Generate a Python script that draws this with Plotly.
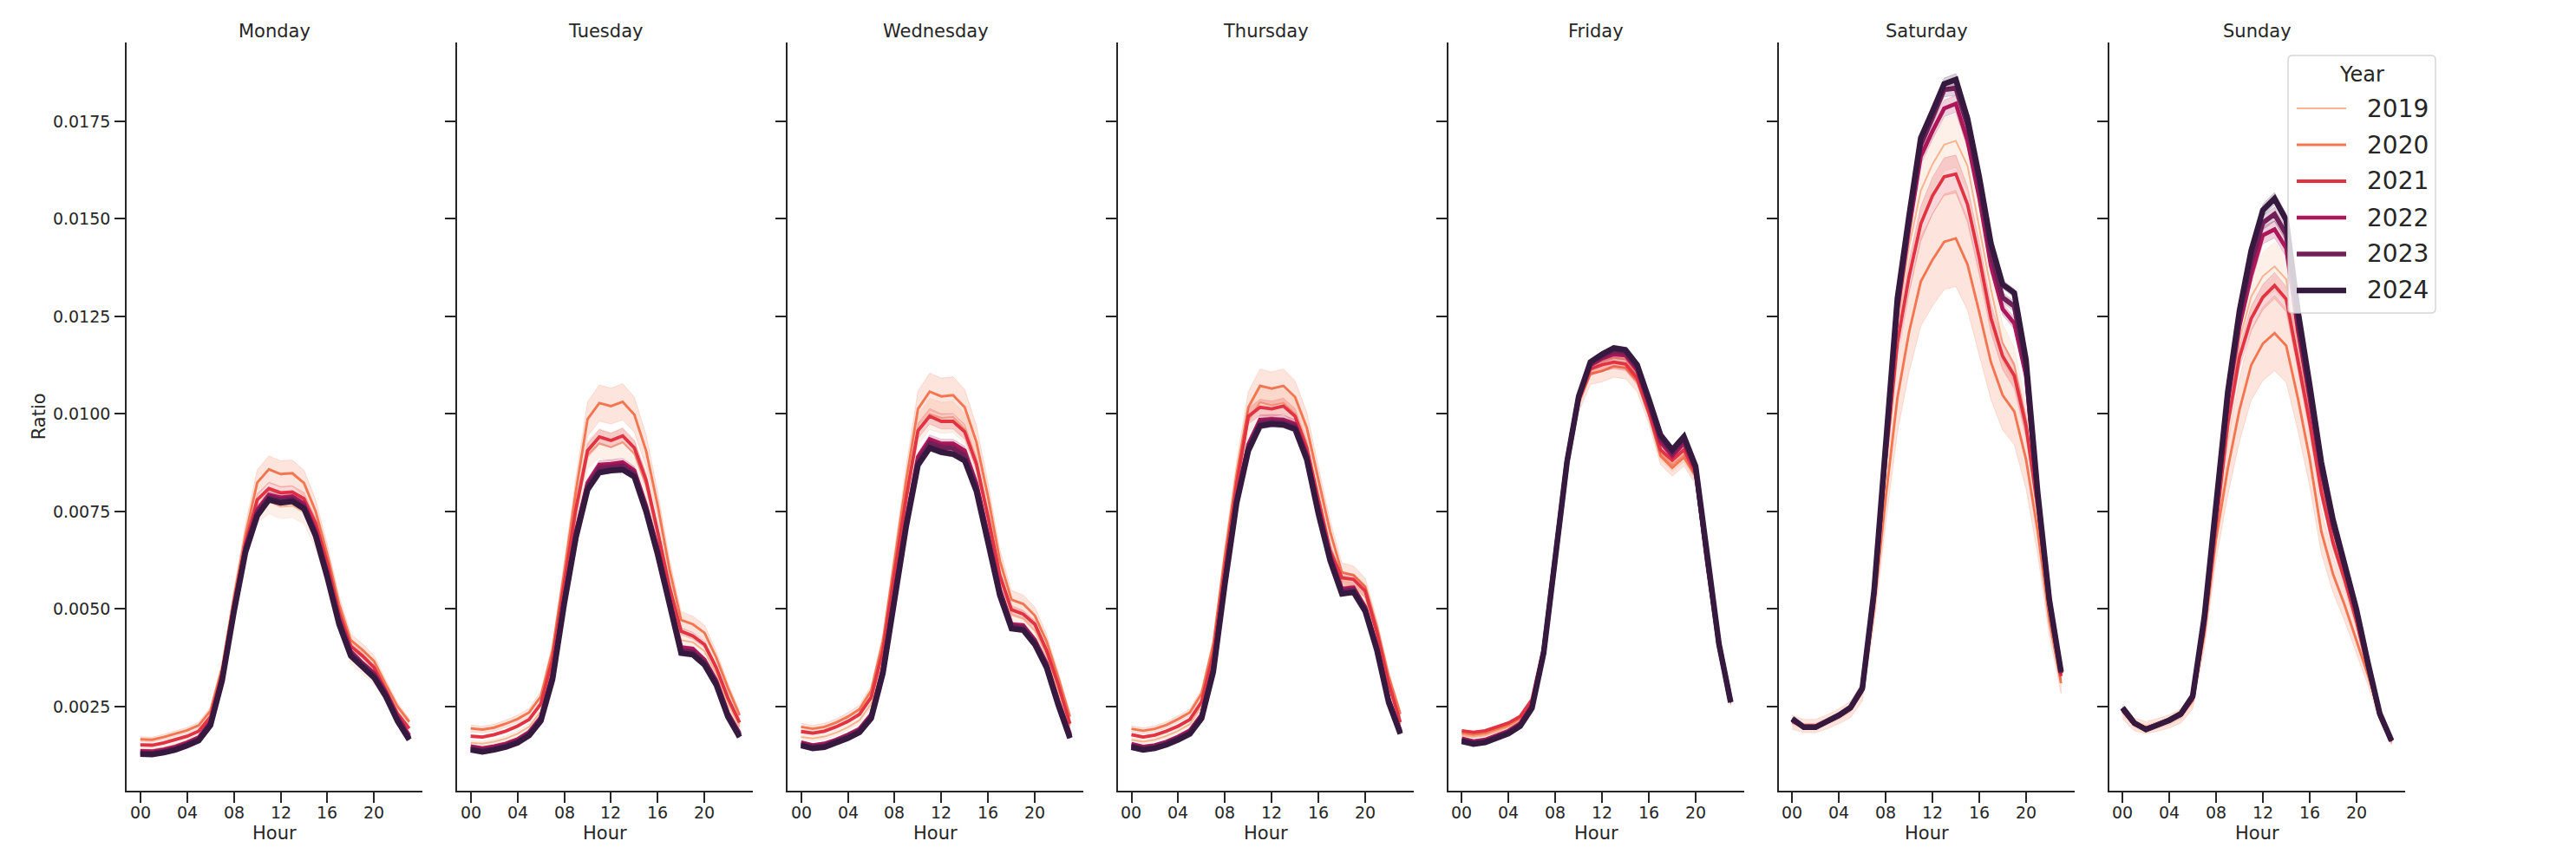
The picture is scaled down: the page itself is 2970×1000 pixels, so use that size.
import plotly.graph_objects as go

W, H = 2970, 1000

hours = list(range(24))
days = ["Monday", "Tuesday", "Wednesday", "Thursday", "Friday", "Saturday", "Sunday"]
years = ["2019", "2020", "2021", "2022", "2023", "2024"]
colors = ["#f6b48f", "#f37651", "#e13342", "#ad1759", "#701f57", "#35193e"]
line_widths = [2.0, 2.9, 3.8, 4.7, 5.6, 6.5]
xtick_vals = [0, 4, 8, 12, 16, 20]
xtick_text = ["00", "04", "08", "12", "16", "20"]
ytick_vals = [0.0025, 0.0050, 0.0075, 0.0100, 0.0125, 0.0150, 0.0175]
ytick_text = ["0.0025", "0.0050", "0.0075", "0.0100", "0.0125", "0.0150", "0.0175"]

# mean ratio per hour, one row per year (2019 .. 2024)
MONDAY = [
    [0.00140,0.00139,0.00144,0.00151,0.00161,0.00174,0.00212,0.00327,0.00502,0.00660,0.00752,0.00775,0.00762,0.00765,0.00748,0.00683,0.00580,0.00462,0.00375,0.00348,0.00320,0.00272,0.00215,0.00175],
    [0.00166,0.00165,0.00172,0.00180,0.00189,0.00202,0.00239,0.00350,0.00528,0.00691,0.00824,0.00858,0.00846,0.00848,0.00823,0.00750,0.00639,0.00513,0.00420,0.00395,0.00366,0.00306,0.00250,0.00211],
    [0.00152,0.00151,0.00157,0.00165,0.00174,0.00187,0.00224,0.00336,0.00513,0.00669,0.00780,0.00809,0.00798,0.00800,0.00783,0.00720,0.00617,0.00491,0.00405,0.00380,0.00350,0.00291,0.00232,0.00194],
    [0.00136,0.00135,0.00140,0.00147,0.00158,0.00171,0.00211,0.00328,0.00504,0.00659,0.00754,0.00793,0.00786,0.00789,0.00770,0.00700,0.00593,0.00474,0.00392,0.00362,0.00336,0.00287,0.00224,0.00176],
    [0.00131,0.00130,0.00135,0.00142,0.00153,0.00166,0.00206,0.00322,0.00497,0.00652,0.00746,0.00786,0.00779,0.00782,0.00763,0.00693,0.00586,0.00467,0.00386,0.00356,0.00330,0.00281,0.00218,0.00170],
    [0.00128,0.00127,0.00132,0.00139,0.00150,0.00163,0.00202,0.00317,0.00491,0.00646,0.00739,0.00780,0.00772,0.00776,0.00757,0.00687,0.00580,0.00461,0.00380,0.00350,0.00324,0.00276,0.00213,0.00165],
]
TUESDAY = [
    [0.00157,0.00155,0.00160,0.00168,0.00180,0.00198,0.00238,0.00352,0.00548,0.00740,0.00895,0.00925,0.00915,0.00928,0.00898,0.00815,0.00685,0.00540,0.00420,0.00415,0.00392,0.00335,0.00258,0.00198],
    [0.00194,0.00191,0.00196,0.00206,0.00218,0.00235,0.00276,0.00394,0.00594,0.00802,0.00987,0.01028,0.01020,0.01031,0.00998,0.00906,0.00765,0.00602,0.00472,0.00461,0.00439,0.00376,0.00298,0.00228],
    [0.00174,0.00172,0.00178,0.00187,0.00200,0.00217,0.00257,0.00372,0.00565,0.00757,0.00906,0.00941,0.00932,0.00944,0.00913,0.00831,0.00698,0.00557,0.00443,0.00431,0.00409,0.00350,0.00272,0.00209],
    [0.00148,0.00143,0.00148,0.00155,0.00166,0.00185,0.00223,0.00332,0.00527,0.00698,0.00824,0.00870,0.00872,0.00876,0.00855,0.00765,0.00655,0.00522,0.00402,0.00398,0.00370,0.00317,0.00234,0.00182],
    [0.00143,0.00138,0.00143,0.00150,0.00161,0.00180,0.00218,0.00326,0.00520,0.00690,0.00815,0.00860,0.00863,0.00866,0.00846,0.00757,0.00646,0.00513,0.00394,0.00390,0.00363,0.00311,0.00229,0.00177],
    [0.00139,0.00134,0.00139,0.00146,0.00157,0.00176,0.00213,0.00320,0.00513,0.00683,0.00806,0.00850,0.00855,0.00857,0.00839,0.00750,0.00639,0.00506,0.00387,0.00383,0.00357,0.00306,0.00224,0.00172],
]
WEDNESDAY = [
    [0.00172,0.00168,0.00173,0.00183,0.00197,0.00215,0.00258,0.00378,0.00580,0.00775,0.00960,0.01000,0.00990,0.00992,0.00962,0.00875,0.00735,0.00580,0.00485,0.00475,0.00445,0.00380,0.00292,0.00200],
    [0.00198,0.00193,0.00198,0.00209,0.00224,0.00243,0.00291,0.00417,0.00624,0.00831,0.01013,0.01057,0.01045,0.01048,0.01017,0.00928,0.00787,0.00624,0.00524,0.00513,0.00483,0.00417,0.00324,0.00224],
    [0.00186,0.00182,0.00187,0.00198,0.00212,0.00230,0.00274,0.00394,0.00594,0.00787,0.00957,0.00994,0.00981,0.00981,0.00954,0.00872,0.00735,0.00587,0.00498,0.00487,0.00461,0.00394,0.00306,0.00206],
    [0.00158,0.00151,0.00155,0.00165,0.00178,0.00193,0.00230,0.00347,0.00542,0.00728,0.00890,0.00935,0.00924,0.00924,0.00906,0.00822,0.00688,0.00551,0.00461,0.00458,0.00421,0.00361,0.00265,0.00180],
    [0.00154,0.00147,0.00150,0.00160,0.00173,0.00188,0.00225,0.00341,0.00535,0.00720,0.00878,0.00925,0.00914,0.00912,0.00893,0.00812,0.00678,0.00543,0.00456,0.00452,0.00415,0.00355,0.00259,0.00174],
    [0.00150,0.00143,0.00146,0.00156,0.00169,0.00184,0.00220,0.00335,0.00528,0.00713,0.00869,0.00913,0.00902,0.00897,0.00880,0.00802,0.00669,0.00535,0.00450,0.00446,0.00409,0.00350,0.00254,0.00169],
]
THURSDAY = [
    [0.00165,0.00160,0.00165,0.00175,0.00188,0.00205,0.00250,0.00370,0.00595,0.00808,0.00985,0.01030,0.01022,0.01028,0.01000,0.00920,0.00785,0.00650,0.00565,0.00560,0.00530,0.00425,0.00300,0.00205],
    [0.00193,0.00188,0.00193,0.00203,0.00218,0.00235,0.00283,0.00409,0.00639,0.00846,0.01017,0.01072,0.01065,0.01072,0.01043,0.00965,0.00831,0.00698,0.00594,0.00587,0.00557,0.00454,0.00328,0.00231],
    [0.00178,0.00172,0.00177,0.00187,0.00200,0.00217,0.00262,0.00385,0.00610,0.00820,0.00994,0.01017,0.01013,0.01020,0.00994,0.00913,0.00780,0.00650,0.00580,0.00576,0.00546,0.00440,0.00310,0.00210],
    [0.00154,0.00147,0.00151,0.00160,0.00173,0.00189,0.00229,0.00349,0.00576,0.00785,0.00922,0.00985,0.00987,0.00985,0.00974,0.00896,0.00757,0.00637,0.00552,0.00555,0.00505,0.00404,0.00270,0.00189],
    [0.00150,0.00143,0.00147,0.00156,0.00169,0.00184,0.00224,0.00344,0.00570,0.00778,0.00914,0.00977,0.00980,0.00978,0.00967,0.00889,0.00750,0.00630,0.00545,0.00549,0.00499,0.00399,0.00265,0.00184],
    [0.00146,0.00139,0.00143,0.00152,0.00165,0.00180,0.00220,0.00339,0.00565,0.00772,0.00906,0.00969,0.00974,0.00972,0.00961,0.00883,0.00743,0.00624,0.00539,0.00543,0.00494,0.00394,0.00261,0.00180],
]
FRIDAY = [
    [0.00176,0.00172,0.00176,0.00186,0.00198,0.00215,0.00258,0.00395,0.00636,0.00877,0.01040,0.01120,0.01135,0.01145,0.01140,0.01100,0.01010,0.00900,0.00870,0.00895,0.00845,0.00612,0.00404,0.00261],
    [0.00182,0.00178,0.00182,0.00192,0.00203,0.00220,0.00263,0.00398,0.00636,0.00875,0.01030,0.01103,0.01110,0.01122,0.01118,0.01084,0.01000,0.00892,0.00862,0.00889,0.00840,0.00610,0.00402,0.00260],
    [0.00188,0.00184,0.00188,0.00197,0.00208,0.00225,0.00268,0.00402,0.00640,0.00878,0.01036,0.01115,0.01126,0.01133,0.01128,0.01092,0.01005,0.00908,0.00881,0.00908,0.00848,0.00615,0.00405,0.00262],
    [0.00168,0.00161,0.00165,0.00176,0.00188,0.00207,0.00253,0.00393,0.00636,0.00878,0.01040,0.01125,0.01142,0.01153,0.01150,0.01112,0.01024,0.00928,0.00892,0.00925,0.00856,0.00620,0.00408,0.00263],
    [0.00164,0.00157,0.00161,0.00172,0.00184,0.00203,0.00249,0.00390,0.00634,0.00878,0.01043,0.01130,0.01148,0.01162,0.01158,0.01120,0.01032,0.00938,0.00900,0.00935,0.00862,0.00623,0.00409,0.00262],
    [0.00161,0.00154,0.00158,0.00169,0.00181,0.00200,0.00246,0.00387,0.00632,0.00877,0.01045,0.01133,0.01153,0.01169,0.01164,0.01126,0.01038,0.00946,0.00908,0.00942,0.00866,0.00625,0.00410,0.00261],
]
SATURDAY = [
    [0.00212,0.00199,0.00199,0.00212,0.00226,0.00246,0.00294,0.00530,0.00900,0.01230,0.01430,0.01572,0.01640,0.01690,0.01700,0.01636,0.01480,0.01320,0.01183,0.01125,0.00983,0.00770,0.00510,0.00330],
    [0.00210,0.00200,0.00200,0.00211,0.00225,0.00243,0.00288,0.00500,0.00786,0.01041,0.01210,0.01339,0.01395,0.01441,0.01450,0.01383,0.01261,0.01133,0.01048,0.01006,0.00884,0.00700,0.00470,0.00310],
    [0.00213,0.00200,0.00200,0.00212,0.00226,0.00245,0.00292,0.00520,0.00880,0.01183,0.01352,0.01487,0.01559,0.01608,0.01615,0.01537,0.01400,0.01246,0.01148,0.01098,0.00970,0.00760,0.00505,0.00328],
    [0.00215,0.00198,0.00198,0.00211,0.00226,0.00246,0.00294,0.00535,0.00920,0.01265,0.01475,0.01660,0.01725,0.01783,0.01795,0.01700,0.01555,0.01380,0.01269,0.01232,0.01098,0.00782,0.00517,0.00335],
    [0.00217,0.00197,0.00197,0.00211,0.00227,0.00247,0.00296,0.00540,0.00930,0.01280,0.01495,0.01690,0.01760,0.01831,0.01835,0.01740,0.01590,0.01410,0.01298,0.01276,0.01115,0.00790,0.00520,0.00337],
    [0.00219,0.00197,0.00197,0.00212,0.00228,0.00248,0.00297,0.00545,0.00941,0.01296,0.01508,0.01707,0.01775,0.01846,0.01857,0.01757,0.01608,0.01437,0.01332,0.01310,0.01139,0.00799,0.00523,0.00339],
]
SUNDAY = [
    [0.00239,0.00205,0.00195,0.00203,0.00213,0.00228,0.00268,0.00445,0.00715,0.00950,0.01190,0.01300,0.01353,0.01378,0.01345,0.01180,0.01010,0.00820,0.00680,0.00580,0.00470,0.00345,0.00228,0.00163],
    [0.00238,0.00204,0.00196,0.00203,0.00212,0.00226,0.00265,0.00435,0.00680,0.00860,0.01010,0.01125,0.01180,0.01207,0.01175,0.01040,0.00887,0.00699,0.00590,0.00510,0.00420,0.00330,0.00230,0.00165],
    [0.00240,0.00205,0.00195,0.00203,0.00213,0.00228,0.00270,0.00455,0.00720,0.00975,0.01145,0.01244,0.01299,0.01329,0.01294,0.01140,0.00980,0.00800,0.00670,0.00575,0.00470,0.00345,0.00226,0.00161],
    [0.00243,0.00206,0.00193,0.00203,0.00214,0.00230,0.00273,0.00470,0.00750,0.01030,0.01225,0.01355,0.01458,0.01473,0.01425,0.01215,0.01040,0.00852,0.00710,0.00605,0.00490,0.00355,0.00229,0.00162],
    [0.00245,0.00207,0.00192,0.00203,0.00215,0.00231,0.00275,0.00475,0.00760,0.01045,0.01250,0.01388,0.01490,0.01512,0.01460,0.01240,0.01058,0.00865,0.00720,0.00612,0.00495,0.00358,0.00230,0.00162],
    [0.00247,0.00208,0.00191,0.00203,0.00215,0.00232,0.00277,0.00481,0.00768,0.01056,0.01264,0.01418,0.01522,0.01552,0.01497,0.01264,0.01076,0.00877,0.00729,0.00619,0.00500,0.00361,0.00232,0.00163],
]

# relative half-width of the 95% confidence band, per year (2019 .. 2024)
MONDAY_CI = [0.040, 0.040, 0.020, 0.012, 0.010, 0.008]
TUESDAY_CI = [0.040, 0.045, 0.020, 0.012, 0.010, 0.008]
WEDNESDAY_CI = [0.040, 0.045, 0.020, 0.012, 0.010, 0.008]
THURSDAY_CI = [0.035, 0.040, 0.020, 0.012, 0.010, 0.008]
FRIDAY_CI = [0.020, 0.025, 0.015, 0.010, 0.008, 0.006]
SATURDAY_CI = [0.040, 0.085, 0.030, 0.012, 0.010, 0.008]
SUNDAY_CI = [0.045, 0.080, 0.025, 0.015, 0.012, 0.010]

day_values = [MONDAY, TUESDAY, WEDNESDAY, THURSDAY, FRIDAY, SATURDAY, SUNDAY]
day_ci = [MONDAY_CI, TUESDAY_CI, WEDNESDAY_CI, THURSDAY_CI, FRIDAY_CI, SATURDAY_CI, SUNDAY_CI]

# ---------------- layout geometry (pixels) ----------------
PANEL_LEFT0 = 146.3
PANEL_STEP = 380.9
PANEL_W = 341.0
AX_TOP = 49.0
AX_BOTTOM = 911.7
XRANGE = [-1.15, 24.15]
YRANGE = [0.00035, 0.01952]
INK = "#262626"
FONT = "DejaVu Sans"


def px(x):
    return x / W


def py(y):
    return 1 - y / H


def rgba(hex_color, a):
    h = hex_color.lstrip("#")
    r, g, b = int(h[0:2], 16), int(h[2:4], 16), int(h[4:6], 16)
    return f"rgba({r},{g},{b},{a})"


fig = go.Figure()
annotations = []
shapes = []

for i, day in enumerate(days):
    xa = "x" if i == 0 else f"x{i + 1}"
    ya = "y" if i == 0 else f"y{i + 1}"
    vals = day_values[i]
    cis = day_ci[i]
    for j, yr in enumerate(years):
        v = vals[j]
        r = cis[j]
        upper = [a * (1 + r) for a in v]
        lower = [a * (1 - r) for a in v]
        fig.add_trace(go.Scatter(
            x=hours + hours[::-1], y=upper + lower[::-1],
            fill="toself", fillcolor=rgba(colors[j], 0.2),
            line=dict(color=rgba(colors[j], 0.2), width=1),
            mode="lines", hoverinfo="skip", showlegend=False,
            xaxis=xa, yaxis=ya,
        ))
        fig.add_trace(go.Scatter(
            x=hours, y=v, mode="lines", name=yr,
            line=dict(color=colors[j], width=line_widths[j]),
            showlegend=False, xaxis=xa, yaxis=ya,
        ))

    left = PANEL_LEFT0 + i * PANEL_STEP
    xkey = "xaxis" if i == 0 else f"xaxis{i + 1}"
    ykey = "yaxis" if i == 0 else f"yaxis{i + 1}"
    fig.layout[xkey] = dict(
        domain=[px(left), px(left + PANEL_W)], anchor=ya, range=XRANGE,
        showline=True, linecolor=INK, linewidth=2.2, mirror=False,
        ticks="outside", ticklen=12, tickwidth=2.2, tickcolor=INK,
        tickvals=xtick_vals, ticktext=xtick_text, showticklabels=False,
        showgrid=False, zeroline=False,
    )
    fig.layout[ykey] = dict(
        domain=[py(AX_BOTTOM), py(AX_TOP)], anchor=xa, range=YRANGE,
        showline=True, linecolor=INK, linewidth=2.2, mirror=False,
        ticks="outside", ticklen=12, tickwidth=2.2, tickcolor=INK,
        tickvals=ytick_vals, ticktext=ytick_text,
        showticklabels=(i == 0),
        tickfont=dict(family=FONT, size=19, color=INK),
        showgrid=False, zeroline=False, ticklabelstandoff=1,
    )
    # x tick labels placed on the axis' own data coordinates
    for tv, tt in zip(xtick_vals, xtick_text):
        annotations.append(dict(text=tt, x=tv, xref=xa, y=py(936.5), yref="paper",
                                xanchor="center", yanchor="middle", showarrow=False,
                                font=dict(family=FONT, size=19, color=INK)))
    cx = left + PANEL_W / 2
    annotations.append(dict(text=day, x=px(cx), y=py(36), xref="paper", yref="paper",
                            xanchor="center", yanchor="middle", showarrow=False,
                            font=dict(family=FONT, size=21, color=INK)))
    annotations.append(dict(text="Hour", x=px(cx), y=py(961), xref="paper", yref="paper",
                            xanchor="center", yanchor="middle", showarrow=False,
                            font=dict(family=FONT, size=21, color=INK)))

annotations.append(dict(text="Ratio", x=px(45), y=py((AX_TOP + AX_BOTTOM) / 2),
                        xref="paper", yref="paper", xanchor="center", yanchor="middle",
                        textangle=-90, showarrow=False,
                        font=dict(family=FONT, size=21, color=INK)))

# ---------------- legend (drawn manually, matplotlib style) ----------------
LX0, LY0, LX1, LY1, RAD = 2638, 64, 2808, 361, 5
path = (
    f"M {px(LX0 + RAD)},{py(LY0)} L {px(LX1 - RAD)},{py(LY0)} "
    f"Q {px(LX1)},{py(LY0)} {px(LX1)},{py(LY0 + RAD)} "
    f"L {px(LX1)},{py(LY1 - RAD)} Q {px(LX1)},{py(LY1)} {px(LX1 - RAD)},{py(LY1)} "
    f"L {px(LX0 + RAD)},{py(LY1)} Q {px(LX0)},{py(LY1)} {px(LX0)},{py(LY1 - RAD)} "
    f"L {px(LX0)},{py(LY0 + RAD)} Q {px(LX0)},{py(LY0)} {px(LX0 + RAD)},{py(LY0)} Z"
)
shapes.append(dict(type="path", path=path, xref="paper", yref="paper", layer="above",
                   fillcolor="rgba(255,255,255,0.8)", line=dict(color="rgba(204,204,204,0.8)", width=1.5)))
annotations.append(dict(text="Year", x=px((LX0 + LX1) / 2), y=py(86), xref="paper", yref="paper",
                        xanchor="center", yanchor="middle", showarrow=False,
                        font=dict(family=FONT, size=24, color=INK)))
ROW0, ROW_STEP = 125, 42
for j, yr in enumerate(years):
    ry = ROW0 + j * ROW_STEP
    shapes.append(dict(type="line", xref="paper", yref="paper", layer="above",
                       x0=px(2648), x1=px(2705), y0=py(ry), y1=py(ry),
                       line=dict(color=colors[j], width=line_widths[j])))
    annotations.append(dict(text=yr, x=px(2727), y=py(ry), xref="paper", yref="paper",
                            xanchor="left", yanchor="middle", showarrow=False,
                            font=dict(family=FONT, size=28, color=INK)))

fig.update_layout(
    width=W, height=H, margin=dict(l=0, r=0, t=0, b=0, pad=0),
    paper_bgcolor="white", plot_bgcolor="white",
    showlegend=False, annotations=annotations, shapes=shapes,
    font=dict(family=FONT, color=INK),
)

fig.write_html("out.html", include_plotlyjs=True, config={"displayModeBar": False},
               post_script="document.body.style.margin='0';document.body.style.overflow='hidden';")
